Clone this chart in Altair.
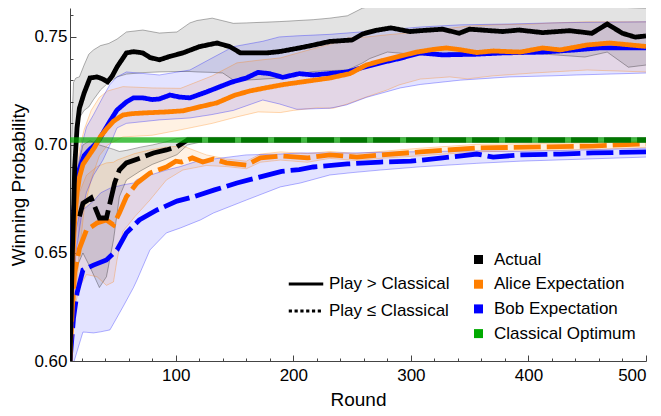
import altair as alt
import pandas as pd

# ---------------- data ----------------
SER_ACT = "Actual"
SER_AL = "Alice Expectation"
SER_BOB = "Bob Expectation"
SER_CL = "Classical Optimum"
PLAY_GT = "Play > Classical"
PLAY_LE = "Play \u2264 Classical"

series_names = [SER_ACT, SER_AL, SER_BOB, SER_CL]
series_colors = ["#000000", "#ff7f00", "#0000ff", "#00aa00"]
play_names = [PLAY_GT, PLAY_LE]

# Actual, Play > Classical
act_gt_r = [10, 11, 12, 13, 14, 16, 18, 22, 27, 33, 38, 42, 46, 50, 58, 64, 72, 78, 86, 95,
            106, 120, 135, 146, 155, 177, 188, 205, 215, 231, 250, 259, 270, 283, 299, 308, 327, 341, 350, 365,
            378, 392, 412, 435, 454, 467, 480, 491, 500]
act_gt_v = [0.600, 0.625, 0.650, 0.668, 0.690, 0.708, 0.717, 0.724, 0.731, 0.7315,
            0.7305, 0.7292, 0.7320, 0.7361, 0.7426, 0.7432, 0.7426, 0.7405, 0.7394, 0.7410,
            0.7426, 0.7455, 0.7472, 0.7455, 0.7426, 0.7426, 0.7432, 0.7449, 0.7460, 0.7479,
            0.7486, 0.7514, 0.7530, 0.7542, 0.7525, 0.7529, 0.7536, 0.7517, 0.7536, 0.7530,
            0.7525, 0.7532, 0.7520, 0.7529, 0.7517, 0.7560, 0.7517, 0.7499, 0.7505]
act_gt_band_r = [10, 11, 12, 13, 15, 18, 22, 26, 30, 36, 43, 50, 58, 72, 86, 101, 112, 118, 131, 140,
                 149, 160, 188, 217, 231, 246, 259, 265, 280, 308, 340, 378, 412, 448, 467, 485, 500]
act_gt_band_hi = [0.660, 0.690, 0.715, 0.729, 0.731, 0.7315, 0.737, 0.742, 0.744, 0.7460,
                  0.7470, 0.7490, 0.7523, 0.7532, 0.7518, 0.7523, 0.7565, 0.7576, 0.7587, 0.7575,
                  0.7563, 0.7565, 0.7571, 0.7580, 0.7587, 0.7598, 0.7634, 0.7640, 0.7642, 0.7644,
                  0.7640, 0.7637, 0.7637, 0.7638, 0.7648, 0.7636, 0.7633]
act_gt_band_lo = [0.590, 0.610, 0.625, 0.655, 0.690, 0.7125, 0.716, 0.7176, 0.721, 0.7255,
                  0.729, 0.7315, 0.7328, 0.7335, 0.7338, 0.7340, 0.7340, 0.7338, 0.7336, 0.7333,
                  0.7300, 0.7300, 0.7310, 0.7340, 0.7344, 0.7347, 0.7380, 0.7400, 0.7430, 0.7417,
                  0.7428, 0.7428, 0.7421, 0.7407, 0.7430, 0.7360, 0.7370]

# Actual, Play <= Classical
act_le_r = [18, 21, 28, 35, 41, 48, 52, 58, 70, 81, 92, 101, 110, 120, 200, 300, 400, 500]
act_le_v = [0.667, 0.673, 0.6755, 0.6662, 0.6662, 0.6824, 0.6884, 0.6917, 0.6940, 0.6963,
            0.6977, 0.6992, 0.7023, 0.7023, 0.7023, 0.7023, 0.7023, 0.7023]
act_le_band_r = [17, 21, 27, 35, 41, 47, 52, 58, 70, 80, 92, 101, 110, 120, 500]
act_le_band_hi = [0.690, 0.700, 0.702, 0.700, 0.699, 0.698, 0.697, 0.6975, 0.699, 0.700,
                  0.7015, 0.703, 0.7035, 0.7035, 0.7033]
act_le_band_lo = [0.645, 0.650, 0.6435, 0.634, 0.639, 0.656, 0.676, 0.6838, 0.688, 0.691,
                  0.6935, 0.6955, 0.700, 0.7012, 0.7013]

# Alice, Play > Classical
al_gt_r = [10, 11, 12, 13, 14, 16, 18, 21, 26, 31, 36, 42, 47, 55, 63, 72, 80, 92, 106, 120,
           135, 150, 163, 177, 192, 205, 231, 248, 262, 275, 290, 305, 320, 330, 343, 356, 370, 393, 412, 427,
           450, 469, 500]
al_gt_v = [0.600, 0.620, 0.640, 0.655, 0.665, 0.678, 0.685, 0.691, 0.695, 0.699,
           0.7040, 0.708, 0.711, 0.7139, 0.7145, 0.7148, 0.7150, 0.7153, 0.7158, 0.7176,
           0.7195, 0.7230, 0.7250, 0.7265, 0.7280, 0.7290, 0.7310, 0.7330, 0.7370, 0.7390,
           0.7410, 0.7430, 0.7443, 0.7449, 0.7440, 0.7428, 0.7435, 0.7430, 0.7449, 0.7440,
           0.7463, 0.7472, 0.7456]
al_gt_band_r = [10, 12, 14, 18, 22, 28, 35, 42, 55, 80, 104, 131, 152, 170, 189, 200, 220, 234, 246, 262,
                280, 290, 308, 333, 348, 370, 404, 420, 450, 500]
al_gt_band_hi = [0.620, 0.655, 0.680, 0.698, 0.707, 0.716, 0.722, 0.7250, 0.7270, 0.7264,
                 0.7262, 0.7320, 0.7380, 0.7392, 0.7403, 0.7420, 0.7450, 0.7470, 0.7495, 0.7500,
                 0.7510, 0.7515, 0.7523, 0.7540, 0.7550, 0.7556, 0.7560, 0.7565, 0.7570, 0.7570]
al_gt_band_lo = [0.585, 0.605, 0.625, 0.650, 0.670, 0.684, 0.695, 0.700, 0.7037, 0.7045,
                 0.7070, 0.7100, 0.7130, 0.7153, 0.7150, 0.7160, 0.7172, 0.7170, 0.7190, 0.7222,
                 0.7255, 0.7278, 0.7305, 0.7315, 0.7306, 0.7320, 0.7333, 0.7338, 0.7347, 0.7338]

# Alice, Play <= Classical
al_le_r = [10, 12, 14, 18, 24, 33, 41, 47, 52, 58, 67, 78, 92, 100, 105, 114, 123, 132, 143, 160,
           172, 189, 212, 231, 254, 274, 308, 356, 412, 454, 500]
al_le_v = [0.603, 0.625, 0.641, 0.652, 0.6606, 0.6639, 0.6653, 0.6630, 0.6685, 0.6760,
           0.6824, 0.6870, 0.6898, 0.6925, 0.6921, 0.6940, 0.6921, 0.6935, 0.6917, 0.6907,
           0.6940, 0.6949, 0.6940, 0.6954, 0.6944, 0.6954, 0.6968, 0.6986, 0.6991, 0.6995, 0.7005]
al_le_band_r = [10, 14, 18, 24, 33, 41, 47, 50, 55, 65, 78, 92, 106, 126, 143, 160, 172, 189, 212, 231,
                254, 274, 308, 356, 412, 454, 500]
al_le_band_hi = [0.620, 0.665, 0.678, 0.686, 0.690, 0.6917, 0.692, 0.693, 0.694, 0.696,
                 0.6977, 0.699, 0.6995, 0.6954, 0.6935, 0.6925, 0.6958, 0.6968, 0.6960, 0.6970,
                 0.6960, 0.6970, 0.6985, 0.7003, 0.7007, 0.7011, 0.7021]
al_le_band_lo = [0.590, 0.625, 0.634, 0.640, 0.639, 0.635, 0.6366, 0.6468, 0.660, 0.6667,
                 0.6745, 0.6838, 0.6884, 0.6905, 0.6900, 0.6890, 0.6920, 0.6930, 0.6920, 0.6938,
                 0.6928, 0.6938, 0.6950, 0.6968, 0.6975, 0.6979, 0.6989]

# Bob, Play > Classical
bob_gt_r = [10, 11, 12, 13, 15, 18, 22, 27, 30, 35, 38, 44, 50, 58, 64, 72, 80, 86, 95, 103,
            112, 126, 147, 160, 170, 180, 191, 205, 217, 246, 260, 274, 290, 308, 327, 355, 378, 412, 440, 460,
            500]
bob_gt_v = [0.600, 0.632, 0.655, 0.668, 0.680, 0.689, 0.695, 0.698, 0.6995, 0.7025,
            0.7055, 0.711, 0.7162, 0.7199, 0.7218, 0.7218, 0.7210, 0.7213, 0.7231, 0.7222,
            0.7218, 0.7245, 0.7290, 0.7310, 0.7336, 0.7330, 0.7313, 0.7330, 0.7324, 0.7338,
            0.7360, 0.7380, 0.7400, 0.7426, 0.7417, 0.7420, 0.7426, 0.7430, 0.7440, 0.7449,
            0.7449]
bob_gt_band_r = [10, 12, 15, 20, 24, 30, 38, 44, 50, 58, 86, 112, 130, 149, 174, 188, 203, 231, 245, 262,
                 291, 308, 342, 384, 420, 441, 500]
bob_gt_band_hi = [0.620, 0.655, 0.685, 0.700, 0.7083, 0.714, 0.7222, 0.728, 0.7315, 0.7338,
                  0.7324, 0.7347, 0.7400, 0.7455, 0.7480, 0.7500, 0.7505, 0.7512, 0.7518, 0.7525,
                  0.7538, 0.7546, 0.7556, 0.7560, 0.7565, 0.7567, 0.7570]
bob_gt_band_lo = [0.580, 0.620, 0.650, 0.668, 0.678, 0.686, 0.693, 0.700, 0.7079, 0.7100,
                  0.7116, 0.7125, 0.7140, 0.7160, 0.7208, 0.7190, 0.7165, 0.7170, 0.7185, 0.7220,
                  0.7264, 0.7280, 0.7300, 0.7315, 0.7320, 0.7324, 0.7333]

# Bob, Play <= Classical
bob_le_r = [10, 13, 16, 21, 30, 41, 50, 58, 69, 84, 101, 115, 133, 152, 172, 190, 205, 217, 246, 274,
            300, 327, 356, 370, 393, 427, 455, 500]
bob_le_v = [0.600, 0.620, 0.6315, 0.6421, 0.6444, 0.6468, 0.6514, 0.6593, 0.6653, 0.6699,
            0.6740, 0.6760, 0.6792, 0.6824, 0.6852, 0.6878, 0.6886, 0.6898, 0.6912, 0.6921,
            0.6925, 0.6940, 0.6958, 0.6944, 0.6954, 0.6958, 0.6963, 0.6968]
bob_le_band_r = [10, 13, 18, 21, 24, 30, 36, 44, 55, 64, 67, 78, 92, 104, 121, 132, 160, 189, 206, 231,
                 250, 274, 308, 356, 393, 433, 500]
bob_le_band_hi = [0.640, 0.655, 0.668, 0.670, 0.6713, 0.674, 0.6778, 0.680, 0.6815, 0.6824,
                  0.684, 0.686, 0.6884, 0.690, 0.6930, 0.6935, 0.6954, 0.6958, 0.6963, 0.6963,
                  0.6963, 0.6966, 0.6969, 0.6973, 0.6970, 0.6975, 0.6985]
bob_le_band_lo = [0.590, 0.599, 0.608, 0.6134, 0.6133, 0.613, 0.6135, 0.6144, 0.625, 0.634,
                  0.6375, 0.6514, 0.6593, 0.6616, 0.6653, 0.6685, 0.6745, 0.6806, 0.6824, 0.6861,
                  0.6872, 0.6884, 0.6899, 0.6915, 0.6925, 0.6932, 0.6944]

# Classical optimum
classical_r = [10, 500]
classical_v = [0.7023, 0.7023]

# axis ticks
x_label_ticks = [100, 200, 300, 400, 500]
x_all_ticks = list(range(20, 501, 20))
y_label_ticks = [0.60, 0.65, 0.70, 0.75]
y_all_ticks = [round(0.60 + 0.01 * i, 2) for i in range(17)]

# ---------------- frames ----------------
def line_df(order, series, play, r, v):
    return pd.DataFrame({"round": r, "value": v, "series": series, "play": play,
                         "key": f"{order}_{series}_{play}"})


def band_df(order, series, play, r, lo, hi):
    return pd.DataFrame({"round": r, "lo": lo, "hi": hi, "series": series, "play": play,
                         "key": f"{order}_{series}_{play}"})


lines = pd.concat([
    line_df(1, SER_BOB, PLAY_LE, bob_le_r, bob_le_v),
    line_df(2, SER_AL, PLAY_LE, al_le_r, al_le_v),
    line_df(3, SER_ACT, PLAY_LE, act_le_r, act_le_v),
    line_df(4, SER_BOB, PLAY_GT, bob_gt_r, bob_gt_v),
    line_df(5, SER_AL, PLAY_GT, al_gt_r, al_gt_v),
    line_df(6, SER_ACT, PLAY_GT, act_gt_r, act_gt_v),
], ignore_index=True)

bands = pd.concat([
    band_df(1, SER_ACT, PLAY_GT, act_gt_band_r, act_gt_band_lo, act_gt_band_hi),
    band_df(2, SER_ACT, PLAY_LE, act_le_band_r, act_le_band_lo, act_le_band_hi),
    band_df(3, SER_AL, PLAY_GT, al_gt_band_r, al_gt_band_lo, al_gt_band_hi),
    band_df(4, SER_AL, PLAY_LE, al_le_band_r, al_le_band_lo, al_le_band_hi),
    band_df(5, SER_BOB, PLAY_GT, bob_gt_band_r, bob_gt_band_lo, bob_gt_band_hi),
    band_df(6, SER_BOB, PLAY_LE, bob_le_band_r, bob_le_band_lo, bob_le_band_hi),
], ignore_index=True)

classical = pd.DataFrame({"round": classical_r, "value": classical_v, "series": SER_CL})

legend_colors = pd.DataFrame({"round": [-100] * 4, "value": [0.7] * 4, "series": series_names})
legend_dash = pd.DataFrame({"round": [-100] * 2, "value": [0.7] * 2, "play": play_names})

# ---------------- scales & axes ----------------
FONT = "Liberation Sans"
W, H = 576, 353
xs = alt.Scale(domain=[10, 500], nice=False, zero=False)
ys = alt.Scale(domain=[0.60, 0.7634], nice=False, zero=False)
# the three player series (lines and bands)
ser_scale = alt.Scale(domain=series_names[:3], range=series_colors[:3])
# legend scale with all four entries
col_scale = alt.Scale(domain=series_names, range=series_colors)

x_main_axis = alt.Axis(values=x_label_ticks, ticks=False, labelFontSize=17, labelFont=FONT,
                       labelColor="#000", labelPadding=6, domainColor="#444", domainWidth=1,
                       title="Round", titleFontSize=19, titleFont=FONT, titleFontWeight="normal",
                       titleColor="#000", titlePadding=7, grid=False)
y_main_axis = alt.Axis(values=y_label_ticks, ticks=False, labelFontSize=17, labelFont=FONT,
                       labelColor="#000", labelPadding=3, format=".2f", domainColor="#444",
                       domainWidth=1, title="Winning Probability", titleFontSize=19, titleFont=FONT,
                       titleFontWeight="normal", titleColor="#000", titlePadding=5, grid=False)
x_tick_axis = alt.Axis(orient="top", offset=-H, values=x_all_ticks, labels=False, domain=False,
                       title=None, grid=False, tickColor="#444", tickWidth=1,
                       tickSize={"condition": {"test": "datum.value % 100 === 0", "value": 6}, "value": 3})
y_tick_axis = alt.Axis(orient="right", offset=-W, values=y_all_ticks, labels=False, domain=False,
                       title=None, grid=False, tickColor="#444", tickWidth=1,
                       tickSize={"condition": {"test": "round(datum.value * 100) % 5 === 0", "value": 6},
                                 "value": 3})

# ---------------- layers ----------------
band_fill = alt.Chart(bands).mark_area(clip=True, opacity=0.11).encode(
    x=alt.X("round:Q", scale=xs, axis=x_main_axis),
    y=alt.Y("lo:Q", scale=ys, axis=y_main_axis),
    y2="hi:Q",
    fill=alt.Fill("series:N", scale=ser_scale, legend=None),
    detail="key:N",
)

band_edges = alt.Chart(bands).transform_fold(["lo", "hi"], as_=["edge", "v"]).mark_line(
    clip=True, opacity=0.3, strokeWidth=1
).encode(
    x=alt.X("round:Q", scale=xs, axis=x_tick_axis),
    y=alt.Y("v:Q", scale=ys, axis=y_tick_axis),
    stroke=alt.Stroke("series:N", scale=ser_scale, legend=None),
    detail=["key:N", "edge:N"],
)

series_lines = alt.Chart(lines).mark_line(clip=True, strokeWidth=4.8, strokeCap="butt").encode(
    x=alt.X("round:Q", scale=xs, axis=None),
    y=alt.Y("value:Q", scale=ys, axis=None),
    stroke=alt.Stroke("series:N", scale=ser_scale, legend=None),
    strokeDash=alt.StrokeDash("play:N", scale=alt.Scale(domain=play_names, range=[[1, 0], [27, 6]]),
                              legend=None),
    detail="key:N",
    order="round:Q",
)

classical_line = alt.Chart(classical).mark_line(clip=True, strokeWidth=5.5, opacity=0.7,
                                                strokeCap="butt", color=series_colors[3]).encode(
    x=alt.X("round:Q", scale=xs, axis=None),
    y=alt.Y("value:Q", scale=ys, axis=None),
)

color_legend = alt.Chart(legend_colors).mark_square(clip=True, size=81, opacity=1, filled=True).encode(
    x=alt.X("round:Q", scale=xs, axis=None),
    y=alt.Y("value:Q", scale=ys, axis=None),
    color=alt.Color("series:N", scale=col_scale,
                    legend=alt.Legend(orient="none", legendX=400, legendY=243, title=None,
                                      symbolType="square", symbolSize=81, symbolOpacity=1,
                                      symbolStrokeWidth=0, labelFontSize=17, labelFont=FONT,
                                      labelColor="#000", labelOffset=7, rowPadding=6.7, padding=0)),
)

dash_legend = alt.Chart(legend_dash).mark_line(clip=True, color="black", strokeWidth=3).encode(
    x=alt.X("round:Q", scale=xs, axis=None),
    y=alt.Y("value:Q", scale=ys, axis=None),
    strokeDash=alt.StrokeDash("play:N", scale=alt.Scale(domain=play_names, range=[[1, 0], [3.2, 2.6]]),
                              legend=alt.Legend(orient="none", legendX=217, legendY=257, title=None,
                                                symbolType="stroke", symbolSize=1190,
                                                symbolStrokeWidth=3, symbolStrokeColor="black",
                                                labelFontSize=17, labelFont=FONT, labelColor="#000",
                                                labelOffset=4, rowPadding=-3, padding=0)),
)

chart = alt.layer(
    band_fill, band_edges, series_lines, classical_line, color_legend, dash_legend
).resolve_axis(x="independent", y="independent").resolve_scale(strokeDash="independent").properties(
    width=W, height=H,
    autosize=alt.AutoSizeParams(type="none"),
    padding={"left": 62, "top": 0, "right": 5, "bottom": 52},
).configure_view(stroke=None)

chart.save("out.html", embed_options={"renderer": "svg", "actions": False})
